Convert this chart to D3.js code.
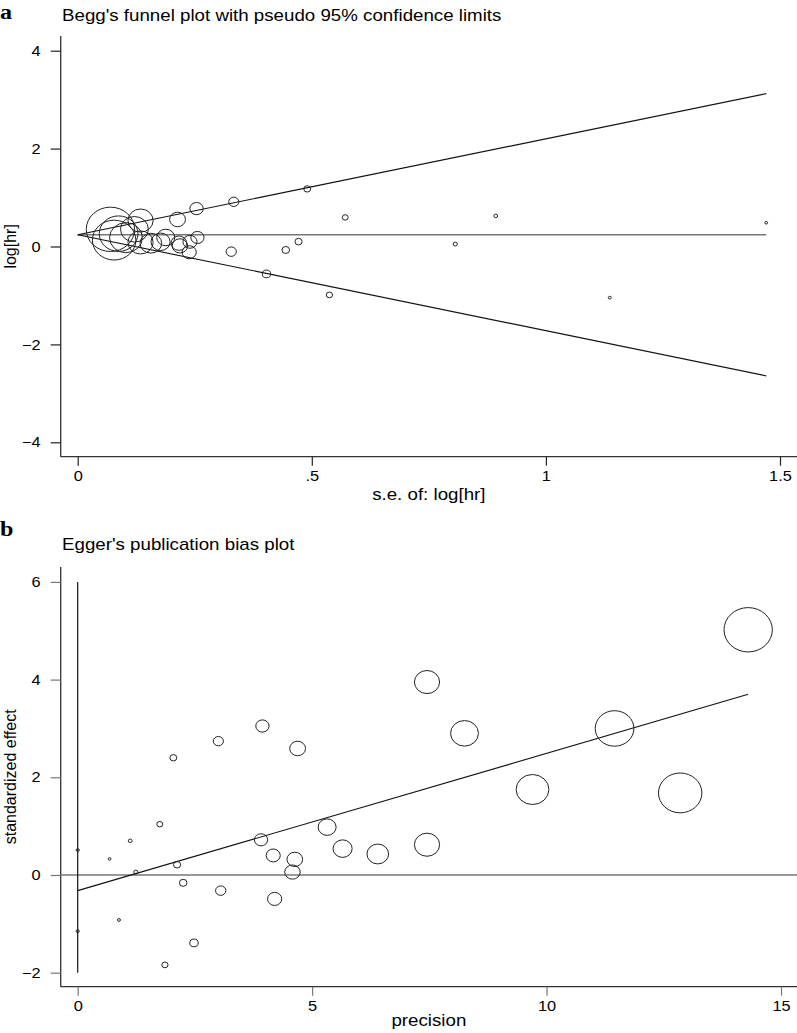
<!DOCTYPE html>
<html><head><meta charset="utf-8">
<script src="https://cdn.jsdelivr.net/npm/d3@7"></script>
<style>
body{margin:0;background:#fff}
text{font-family:"Liberation Sans",Arial,Helvetica,sans-serif;fill:#000}
</style>
</head><body>
<svg id="c" width="797" height="1033"></svg>
<script>
// Study data (precision = 1/se, standardized effect = log[hr]/se)
const precision = [0.68, 0.88, 1.12, 1.24, 1.75, 1.86, 2.04, 2.12, 2.25, 2.48,
                   3.00, 3.05, 3.91, 3.94, 4.17, 4.20, 4.58, 4.63, 4.69, 5.32,
                   5.65, 6.40, 7.45, 7.45, 8.25, 9.70, 11.45, 12.85, 14.30];
const stdEffect = [0.33, -0.92, 0.70, 0.06, 1.04, -1.84, 2.40, 0.21, -0.16, -1.39,
                   2.74, -0.32, 0.72, 3.05, 0.40, -0.49, 0.06, 0.32, 2.59, 0.98,
                   0.54, 0.43, 0.62, 3.95, 2.90, 1.75, 3.00, 1.68, 5.02];
const zeroPrecisionEffects = [0.51, -1.15];
const pooledLogHR = 0.24;
const eggerIntercept = -0.32;
const eggerSlope = 0.281;
const eggerInterceptCI = [-2, 6];

const beggXTicks = [0, 0.5, 1, 1.5];
const beggXTickLabels = ["0", ".5", "1", "1.5"];
const beggYTicks = [-4, -2, 0, 2, 4];
const eggerXTicks = [0, 5, 10, 15];
const eggerYTicks = [-2, 0, 2, 4, 6];

// derived quantities
const seLogHR = precision.map(p => 1 / p);
const logHR = stdEffect.map((s, i) => s / precision[i]);
const studies = precision.map((p, i) => ({p, z: stdEffect[i], se: seLogHR[i], lhr: logHR[i]}));

const svg = d3.select("#c");
const rxScale = d3.scaleLinear().domain([0, 1]).range([0, 1.69]);
const ryScale = d3.scaleLinear().domain([0, 1]).range([0, 1.55]);
const SX = 1.17;   // horizontal stretch seen in the reference text

function stext(parent, x, y, str, size, anchor) {
  return parent.append("text")
    .attr("transform", `translate(${x},${y}) scale(${SX},1)`)
    .attr("text-anchor", anchor || "start")
    .style("font-size", size + "px").text(str);
}
function vtext(parent, x, y, str, size) {
  return parent.append("text")
    .attr("transform", `translate(${x},${y}) rotate(-90)`)
    .attr("text-anchor", "middle")
    .style("font-size", size + "px").text(str);
}

function restyleTicks(sel) {
  sel.selectAll("text").each(function () {
    const t = d3.select(this);
    const x = +t.attr("x") || 0, y = +t.attr("y") || 0;
    t.attr("x", 0).attr("y", 0)
      .attr("transform", `translate(${x},${y}) scale(1.13,1)`)
      .style("font-size", "14.5px").attr("fill", "#000")
      .style("font-family", '"Liberation Sans",Arial,sans-serif');
  });
}

function drawAxes(g, x, y, frame, xTicks, xLabels, yTicks, tickColor) {
  g.append("line").attr("x1", frame.left).attr("x2", frame.left)
    .attr("y1", frame.top).attr("y2", frame.bottom)
    .attr("stroke", "#333").attr("stroke-width", 1.3);
  g.append("line").attr("x1", frame.left).attr("x2", frame.right)
    .attr("y1", frame.bottom).attr("y2", frame.bottom)
    .attr("stroke", "#333").attr("stroke-width", 1.3);

  const yAx = d3.axisLeft(y).tickValues(yTicks).tickSize(10).tickPadding(10)
    .tickFormat(d3.format("d"));
  const yg = g.append("g").attr("transform", `translate(${frame.left},0)`).call(yAx);
  yg.select(".domain").remove();
  yg.selectAll("line").attr("stroke", tickColor).attr("stroke-width", 1.2);
  restyleTicks(yg);

  const xAx = d3.axisBottom(x).tickValues(xTicks).tickSize(9).tickPadding(5)
    .tickFormat((d, i) => xLabels[i]);
  const xg = g.append("g").attr("transform", `translate(0,${frame.bottom})`).call(xAx);
  xg.select(".domain").remove();
  xg.selectAll("line").attr("stroke", tickColor).attr("stroke-width", 1.2);
  restyleTicks(xg);
}

function panelLabel(ch, y) {
  svg.append("text").attr("transform", `translate(0,${y}) scale(1.15,1)`)
    .style("font-family", '"Liberation Serif","Times New Roman",serif')
    .style("font-weight", "bold").style("font-size", "21px").text(ch);
}

const lineGen = d3.line();

// ---------- Panel a: Begg's funnel plot ----------
const fa = {left: 60.7, right: 797, top: 36, bottom: 456.7};
const xa = d3.scaleLinear().domain([0, 1.5]).range([77.7, 780]);
const ya = d3.scaleLinear().domain([-4, 4]).range([442.3, 50.7]);
const ga = svg.append("g");

panelLabel("a", 19);
stext(svg, 62, 20.7, "Begg's funnel plot with pseudo 95% confidence limits", 16);

drawAxes(ga, xa, ya, fa, beggXTicks, beggXTickLabels, beggYTicks, "#222");

const seMax = d3.max(seLogHR);
ga.append("path").attr("d", lineGen([[xa(0), ya(pooledLogHR)], [xa(seMax), ya(pooledLogHR)]]))
  .attr("stroke", "#777").attr("stroke-width", 1.4).attr("fill", "none");
ga.append("path").attr("d", lineGen([[xa(0), ya(pooledLogHR)], [xa(seMax), ya(pooledLogHR + 1.96 * seMax)]]))
  .attr("stroke", "#111").attr("stroke-width", 1.1).attr("fill", "none");
ga.append("path").attr("d", lineGen([[xa(0), ya(pooledLogHR)], [xa(seMax), ya(pooledLogHR - 1.96 * seMax)]]))
  .attr("stroke", "#111").attr("stroke-width", 1.1).attr("fill", "none");

ga.selectAll("ellipse.s").data(studies).join("ellipse").attr("class", "s")
  .attr("cx", d => xa(d.se)).attr("cy", d => ya(d.lhr))
  .attr("rx", d => Math.max(1.4, rxScale(d.p)))
  .attr("ry", d => Math.max(1.3, ryScale(d.p)))
  .attr("fill", "none").attr("stroke", "#222").attr("stroke-width", 1);

vtext(ga, 16, (fa.top + fa.bottom) / 2, "log[hr]", 16);
stext(ga, (fa.left + fa.right) / 2, 500, "s.e. of: log[hr]", 16, "middle");

// ---------- Panel b: Egger's publication bias plot ----------
const fb = {left: 60.7, right: 797, top: 567, bottom: 986.7};
const xb = d3.scaleLinear().domain([0, 15]).range([77.7, 781]);
const yb = d3.scaleLinear().domain([-2, 6]).range([972.7, 581.9]);
const gb = svg.append("g");

panelLabel("b", 536);
stext(svg, 62, 550, "Egger's publication bias plot", 16);

drawAxes(gb, xb, yb, fb, eggerXTicks, eggerXTicks.map(String), eggerYTicks, "#777");

// zero reference line across the plot region
gb.append("path").attr("d", lineGen([[fb.left, yb(0)], [fb.right, yb(0)]]))
  .attr("stroke", "#777").attr("stroke-width", 1.4).attr("fill", "none");
// intercept CI
gb.append("path").attr("d", lineGen([[xb(0), yb(eggerInterceptCI[0])], [xb(0), yb(eggerInterceptCI[1])]]))
  .attr("stroke", "#111").attr("stroke-width", 1.2).attr("fill", "none");
// regression line
const pMax = d3.max(precision);
gb.append("path").attr("d", lineGen([[xb(0), yb(eggerIntercept)], [xb(pMax), yb(eggerIntercept + eggerSlope * pMax)]]))
  .attr("stroke", "#111").attr("stroke-width", 1.1).attr("fill", "none");

gb.selectAll("ellipse.s").data(studies).join("ellipse").attr("class", "s")
  .attr("cx", d => xb(d.p)).attr("cy", d => yb(d.z))
  .attr("rx", d => Math.max(1.4, rxScale(d.p)))
  .attr("ry", d => Math.max(1.3, ryScale(d.p)))
  .attr("fill", "none").attr("stroke", "#222").attr("stroke-width", 1);
gb.selectAll("ellipse.z").data(zeroPrecisionEffects).join("ellipse").attr("class", "z")
  .attr("cx", xb(0)).attr("cy", d => yb(d)).attr("rx", 1.6).attr("ry", 1.4)
  .attr("fill", "none").attr("stroke", "#222").attr("stroke-width", 1);

vtext(gb, 16, (fb.top + fb.bottom) / 2, "standardized effect", 16);
stext(gb, (fb.left + fb.right) / 2, 1026, "precision", 16, "middle");
</script>
</body></html>
